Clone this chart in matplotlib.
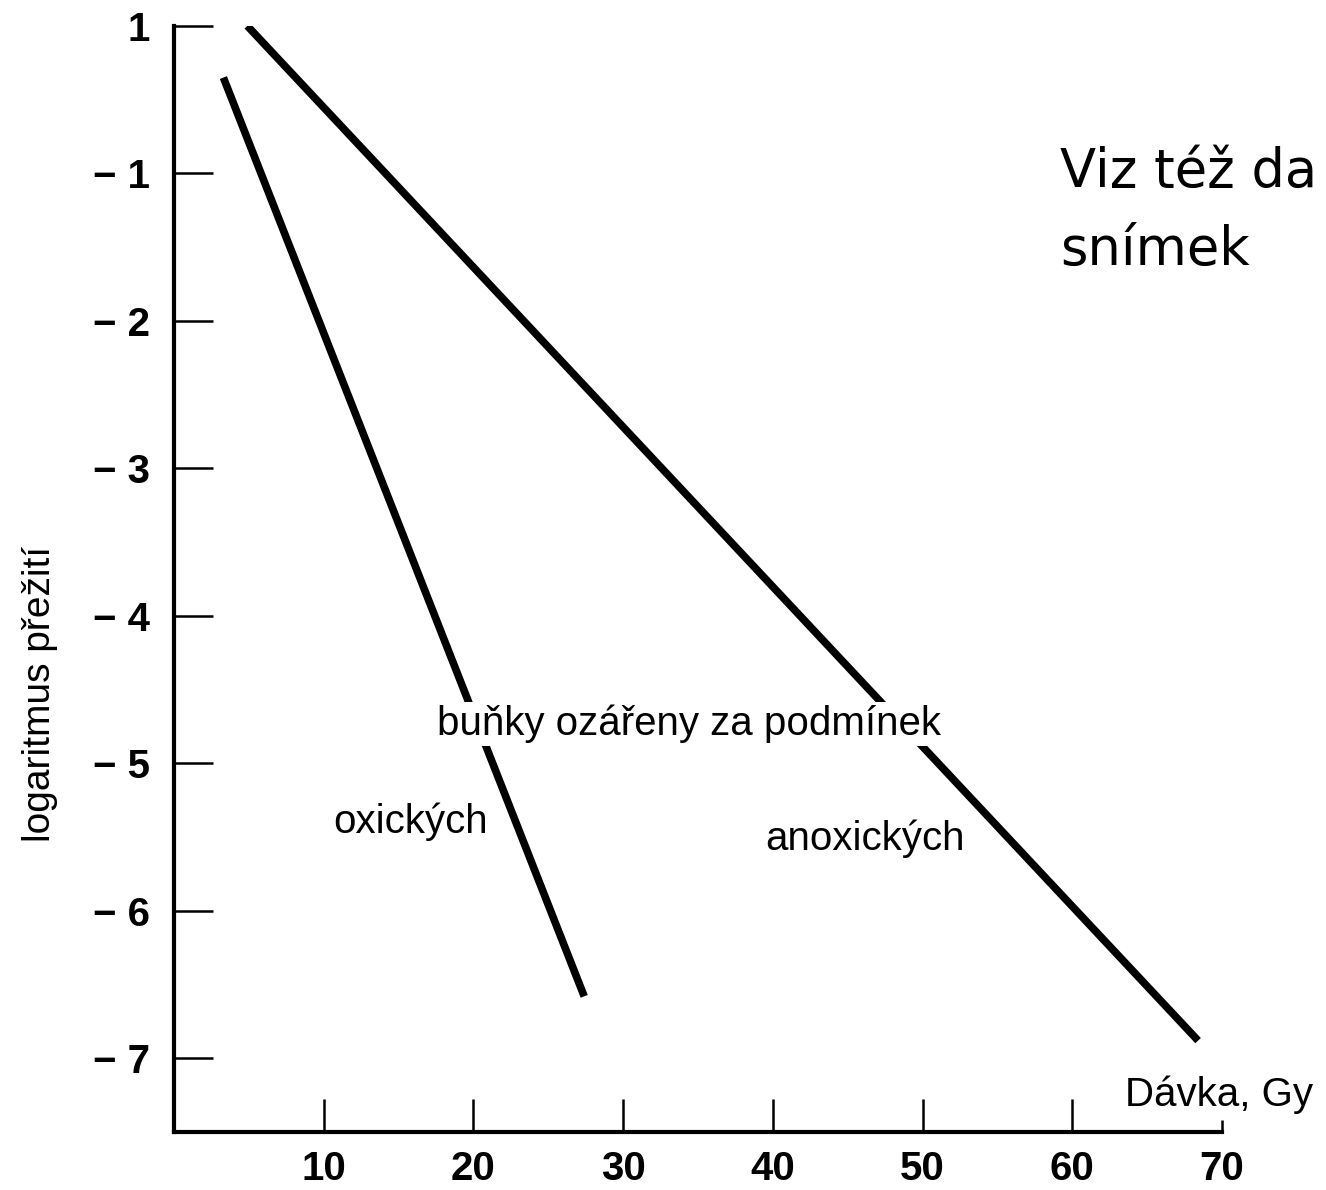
import matplotlib
matplotlib.use("Agg")
import matplotlib.pyplot as plt

# dose (Gy) and log survival
dose_ticks = [10, 20, 30, 40, 50, 60]
dose_labels = ["10", "20", "30", "40", "50", "60"]
log_ticks = [0, -1, -2, -3, -4, -5, -6, -7]
log_labels = ["1", "\u2212 1", "\u2212 2", "\u2212 3", "\u2212 4", "\u2212 5", "\u2212 6", "\u2212 7"]

oxic_dose = [3.3, 27.4]
oxic_log = [-0.35, -6.58]
anoxic_dose = [4.9, 68.4]
anoxic_log = [0.0, -6.88]

plt.rcParams["font.family"] = ["Liberation Sans", "DejaVu Sans"]

fig = plt.figure(figsize=(13.26, 11.90), dpi=100)
ax = fig.add_axes([0.1312, 0.0487, 0.7904, 0.9295])

ax.plot(oxic_dose, oxic_log, color="black", lw=5.5, solid_capstyle="butt", zorder=2)
ax.plot(anoxic_dose, anoxic_log, color="black", lw=5.5, solid_capstyle="butt", zorder=2)

ax.set_xlim(0, 70)
ax.set_ylim(-7.5, 0)

for s in ["top", "right"]:
    ax.spines[s].set_visible(False)
for s in ["left", "bottom"]:
    ax.spines[s].set_linewidth(3)

ax.set_xticks(dose_ticks, labels=dose_labels)
ax.set_xticks([70], labels=["70"], minor=True)
ax.set_yticks(log_ticks, labels=log_labels)
ax.tick_params(axis="x", which="major", direction="in", length=24, width=1.8,
               pad=13, labelsize=29)
ax.tick_params(axis="x", which="minor", direction="in", length=9, width=1.8,
               pad=13, labelsize=29)
ax.tick_params(axis="y", direction="in", length=28, width=1.8, pad=17, labelsize=29)
for lab in ax.get_xticklabels(which="both") + ax.get_yticklabels():
    lab.set_fontweight("bold")

box = dict(facecolor="white", edgecolor="none", pad=2)
ax.text(17.57, -4.81, "buňky ozářeny za podmínek", fontsize=29, va="baseline",
        ha="left", bbox=box, zorder=3)
ax.text(10.62, -5.47, "oxických", fontsize=29, va="baseline", ha="left",
        bbox=box, zorder=3)
ax.text(39.5, -5.59, "anoxických", fontsize=29, va="baseline", ha="left",
        bbox=box, zorder=3)

fig.text(0.030, 0.417, "logaritmus přežití", rotation=90, fontsize=28,
         ha="center", va="center")
fig.text(0.8484, 0.0706, "Dávka, Gy", fontsize=29, ha="left", va="baseline")

# the slide text is cut at the right edge in the source: keep the visible part
fig.text(0.7995, 0.8429, "Viz též da", fontsize=38, ha="left", va="baseline",
         family="DejaVu Sans")
fig.text(0.7995, 0.7773, "snímek", fontsize=38, ha="left", va="baseline",
         family="DejaVu Sans")

fig.savefig("out.png", dpi=100)
plt.close(fig)
